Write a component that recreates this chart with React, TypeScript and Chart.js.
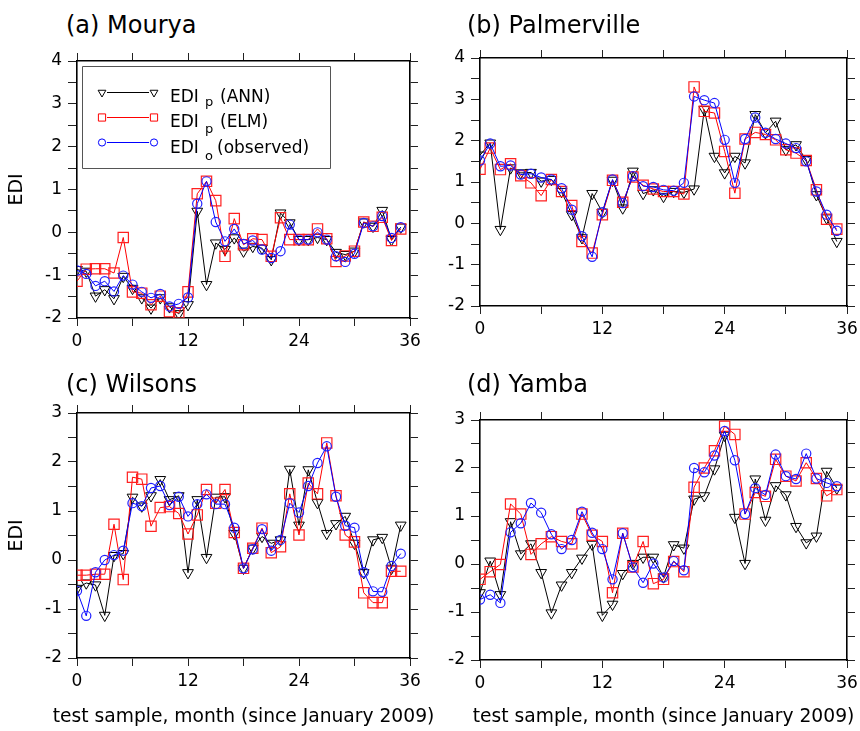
import React, { useEffect, useRef } from 'react';
import { Chart, registerables } from 'chart.js';

Chart.register(...registerables);

// ---------- data ----------
const MONTHS = [0, 1, 2, 3, 4, 5, 6, 7, 8, 9, 10, 11, 12, 13, 14, 15, 16, 17, 18, 19, 20, 21, 22, 23, 24, 25, 26, 27, 28, 29, 30, 31, 32, 33, 34, 35];
const X_TICK_LABELS = [0, 12, 24, 36];

const MOURYA_ANN = [-0.87, -0.91, -1.49, -1.34, -1.55, -1.03, -1.31, -1.53, -1.77, -1.53, -1.74, -1.9, -1.69, 0.49, -1.22, -0.25, -0.4, -0.13, -0.44, -0.33, -0.37, -0.64, 0.45, 0.22, -0.17, -0.17, -0.12, -0.17, -0.47, -0.52, -0.44, 0.24, 0.14, 0.51, -0.17, 0.12];
const MOURYA_ELM = [-1.14, -0.86, -0.85, -0.85, -0.95, -0.12, -1.39, -1.42, -1.69, -1.49, -1.85, -1.88, -1.39, 0.9, 1.19, 0.74, -0.56, 0.32, -0.29, -0.15, -0.17, -0.56, 0.34, -0.17, -0.17, -0.17, 0.08, -0.15, -0.68, -0.55, -0.44, 0.24, 0.14, 0.35, -0.19, 0.08];
const MOURYA_OBS = [-0.89, -0.97, -1.25, -1.14, -1.38, -1.01, -1.22, -1.39, -1.53, -1.44, -1.73, -1.67, -1.52, 0.67, 1.19, 0.24, -0.21, 0.08, -0.27, -0.19, -0.4, -0.6, -0.44, 0.18, -0.17, -0.17, 0.0, -0.17, -0.56, -0.69, -0.5, 0.22, 0.14, 0.38, -0.13, 0.12];

const PALMERVILLE_ANN = [1.65, 1.94, -0.15, 1.34, 1.22, 1.23, 1.02, 1.06, 0.77, 0.21, -0.35, 0.72, 0.27, 1.04, 0.37, 1.26, 0.72, 0.81, 0.65, 0.77, 0.75, 0.83, 2.75, 1.62, 1.22, 1.62, 1.46, 2.63, 2.19, 2.47, 1.78, 1.9, 1.54, 0.69, 0.13, -0.44];
const PALMERVILLE_ELM = [1.31, 1.82, 1.3, 1.44, 1.15, 0.98, 0.67, 1.06, 0.77, 0.43, -0.44, -0.72, 0.21, 1.04, 0.51, 1.12, 0.92, 0.83, 0.77, 0.77, 0.71, 3.3, 2.71, 2.67, 1.74, 0.73, 2.04, 2.2, 2.15, 2.02, 1.78, 1.7, 1.52, 0.81, 0.1, -0.14];
const PALMERVILLE_OBS = [1.52, 1.93, 1.38, 1.4, 1.18, 1.2, 1.11, 1.06, 0.85, 0.33, -0.31, -0.81, 0.27, 1.06, 0.49, 1.14, 0.9, 0.88, 0.81, 0.79, 0.98, 3.07, 2.98, 2.91, 2.02, 0.98, 2.04, 2.56, 2.19, 2.04, 1.93, 1.82, 1.5, 0.77, 0.21, -0.18];

const WILSONS_ANN = [-0.58, -0.47, -0.51, -1.13, 0.09, 0.13, 1.28, 1.1, 1.31, 1.64, 1.23, 1.31, -0.26, 1.23, 0.05, 1.28, 1.29, 0.54, -0.17, 0.24, 0.48, 0.34, 0.41, 1.85, 0.71, 1.84, 1.17, 0.54, 0.74, 0.89, 0.34, -0.26, 0.41, 0.46, -0.17, 0.71];
const WILSONS_ELM = [-0.31, -0.31, -0.29, -0.29, 0.73, -0.4, 1.69, 1.65, 0.69, 1.07, 1.09, 0.95, 0.53, 0.92, 1.44, 1.16, 1.44, 0.56, -0.17, 0.24, 0.65, 0.15, 0.27, 1.35, 0.51, 1.57, 1.35, 2.39, 1.31, 0.51, 0.37, -0.67, -0.87, -0.87, -0.23, -0.23];
const WILSONS_OBS = [-0.63, -1.14, -0.25, 0.0, 0.1, 0.19, 1.16, 1.1, 1.47, 1.51, 1.12, 1.29, 0.89, 1.14, 1.34, 1.14, 1.14, 0.66, -0.17, 0.22, 0.63, 0.19, 0.41, 1.16, 0.97, 1.51, 1.98, 2.32, 1.29, 0.7, 0.66, -0.25, -0.64, -0.65, -0.12, 0.13];

const YAMBA_ANN = [-0.6, 0.06, -0.64, 0.88, 0.21, 0.42, -0.18, -1.02, -0.44, -0.18, 0.12, 0.41, -1.07, -0.84, -0.2, 0.01, 0.14, 0.14, -0.27, 0.4, 0.33, 1.35, 1.42, 1.98, 2.68, 0.97, 0.01, 1.77, 0.91, 1.63, 1.44, 0.78, 0.44, 0.58, 1.93, 1.58];
const YAMBA_ELM = [-0.32, -0.16, -0.01, 1.25, 1.04, 0.2, 0.42, 0.57, 0.47, 0.42, 1.04, 0.6, 0.47, -0.6, 0.64, -0.06, 0.47, -0.41, -0.32, 0.05, -0.16, 1.6, 2.0, 2.36, 2.87, 2.7, 1.04, 1.49, 1.41, 2.18, 1.83, 1.73, 2.11, 1.78, 1.42, 1.55];
const YAMBA_OBS = [-0.74, -0.64, -0.81, 0.66, 0.85, 1.27, 1.07, 0.62, 0.31, 0.5, 1.09, 0.65, 0.31, -0.32, 0.64, -0.07, -0.39, 0.01, -0.28, 0.06, -0.13, 2.0, 1.91, 2.26, 2.77, 2.16, 1.04, 1.58, 1.44, 2.28, 1.83, 1.77, 2.3, 1.78, 1.69, 1.62];

const X_TITLE = 'test sample, month (since January 2009)';
const Y_TITLE = 'EDI';

const FONT = '"DejaVu Sans", Verdana, sans-serif';

type Panel = {
  title: string;
  ann: number[];
  elm: number[];
  obs: number[];
  yMin: number;
  yMax: number;
  area: { l: number; t: number; r: number; b: number };
  titleX: number;
  titleBase: number;
  yTitle: boolean;
  xTitle: boolean;
  legend: boolean;
};

const PANELS: Panel[] = [
  { title: '(a) Mourya', ann: MOURYA_ANN, elm: MOURYA_ELM, obs: MOURYA_OBS, yMin: -2, yMax: 4,
    area: { l: 77, t: 61, r: 410, b: 318 }, titleX: 66, titleBase: 33, yTitle: true, xTitle: false, legend: true },
  { title: '(b) Palmerville', ann: PALMERVILLE_ANN, elm: PALMERVILLE_ELM, obs: PALMERVILLE_OBS, yMin: -2, yMax: 4,
    area: { l: 480, t: 58, r: 847, b: 306 }, titleX: 467, titleBase: 33, yTitle: false, xTitle: false, legend: false },
  { title: '(c) Wilsons', ann: WILSONS_ANN, elm: WILSONS_ELM, obs: WILSONS_OBS, yMin: -2, yMax: 3,
    area: { l: 77, t: 413, r: 410, b: 658 }, titleX: 66, titleBase: 392, yTitle: true, xTitle: true, legend: false },
  { title: '(d) Yamba', ann: YAMBA_ANN, elm: YAMBA_ELM, obs: YAMBA_OBS, yMin: -2, yMax: 3,
    area: { l: 480, t: 420, r: 847, b: 660 }, titleX: 467, titleBase: 392, yTitle: false, xTitle: true, legend: false },
];

const PAD_L = 77;
const PAD_T = 20;
const PAD_R = 20;
const PAD_B = 75;

function marker(ctx: CanvasRenderingContext2D, style: string, x: number, y: number, r: number) {
  ctx.beginPath();
  if (style === 'triangle') {
    for (let k = 0; k < 3; k++) {
      const a = Math.PI + (k * 2 * Math.PI) / 3;
      const px = x + Math.sin(a) * r;
      const py = y - Math.cos(a) * r;
      if (k === 0) ctx.moveTo(px, py);
      else ctx.lineTo(px, py);
    }
    ctx.closePath();
  } else if (style === 'rect') {
    ctx.rect(x - r, y - r, 2 * r, 2 * r);
  } else {
    ctx.arc(x, y, r, 0, Math.PI * 2);
  }
  ctx.stroke();
}

// legend drawn inside panel (a)
const legendPlugin = {
  id: 'ediLegend',
  afterDraw(chart: any, _args: any, opts: any) {
    if (!opts || !opts.show) return;
    const { ctx, chartArea } = chart;
    const ox = chartArea.left;
    const oy = chartArea.top;
    ctx.save();
    ctx.strokeStyle = '#555';
    ctx.lineWidth = 1;
    ctx.fillStyle = '#fff';
    ctx.beginPath();
    ctx.rect(ox + 5.5, oy + 5.5, 248, 102);
    ctx.fill();
    ctx.stroke();

    const rows = [
      { y: 31, color: '#000', style: 'triangle', r: 4.5, label: '(ANN)', lx: 143 },
      { y: 56, color: '#ff0000', style: 'rect', r: 3.6, label: '(ELM)', lx: 143 },
      { y: 81, color: '#0000ff', style: 'circle', r: 3.6, label: '(observed)', lx: 140 },
    ];
    const x1 = ox + 25;
    const x2 = ox + 77;
    rows.forEach((row) => {
      const y = oy + row.y + 0.5;
      ctx.strokeStyle = row.color;
      ctx.lineWidth = 1;
      ctx.beginPath();
      ctx.moveTo(x1 + 5, y);
      ctx.lineTo(x2 - 5, y);
      ctx.stroke();
      marker(ctx, row.style, x1, y, row.r);
      marker(ctx, row.style, x2, y, row.r);
    });

    ctx.fillStyle = '#000';
    ctx.textBaseline = 'alphabetic';
    ctx.textAlign = 'left';
    const big = '17px ' + FONT;
    const small = '13px ' + FONT;
    const baselines = [40.5, 65.5, 92];
    rows.forEach((row, i) => {
      ctx.font = big;
      ctx.fillText('EDI', ox + 93, oy + baselines[i]);
      ctx.fillText(row.label, ox + row.lx, oy + baselines[i]);
    });
    ctx.font = small;
    ctx.fillText('p', ox + 128, oy + 45);
    ctx.fillText('p', ox + 128, oy + 72);
    ctx.fillText('o', ox + 128, oy + 98.5);
    ctx.restore();
  },
};

function PanelChart({ p }: { p: Panel }) {
  const ref = useRef<HTMLCanvasElement | null>(null);
  const width = p.area.r - p.area.l + PAD_L + PAD_R;
  const height = p.area.b - p.area.t + PAD_T + PAD_B;

  useEffect(() => {
    if (!ref.current) return;
    const mk = (vals: number[]) => MONTHS.map((m, i) => ({ x: m, y: vals[i] }));
    const gridOpts = (len: number) => ({
      display: true,
      drawOnChartArea: false,
      drawTicks: true,
      tickLength: len,
      color: '#222',
      lineWidth: 1,
    });
    const borderOpts = { display: true, color: '#000', width: 1.6 };
    const tickFont = { family: FONT, size: 17 };
    const titleFont = { family: FONT, size: 19 };

    const chart = new Chart(ref.current, {
      type: 'line',
      data: {
        datasets: [
          {
            label: 'EDI_p (ANN)',
            data: mk(p.ann),
            borderColor: '#000',
            borderWidth: 1,
            pointStyle: 'triangle',
            rotation: 180,
            pointRadius: 6.2,
            pointBorderColor: '#000',
            pointBackgroundColor: 'rgba(255,255,255,0)',
            pointBorderWidth: 1,
            order: 2,
            tension: 0,
          },
          {
            label: 'EDI_p (ELM)',
            data: mk(p.elm),
            borderColor: '#ff0000',
            borderWidth: 1,
            pointStyle: 'rect',
            pointRadius: 7.3,
            pointBorderColor: '#ff2020',
            pointBackgroundColor: 'rgba(255,255,255,0)',
            pointBorderWidth: 1.2,
            order: 1,
            tension: 0,
          },
          {
            label: 'EDI_o (observed)',
            data: mk(p.obs),
            borderColor: '#0000ff',
            borderWidth: 1,
            pointStyle: 'circle',
            pointRadius: 4.6,
            pointBorderColor: '#2020ff',
            pointBackgroundColor: 'rgba(255,255,255,0)',
            pointBorderWidth: 1.2,
            order: 0,
            tension: 0,
          },
        ],
      },
      options: {
        responsive: false,
        animation: false,
        devicePixelRatio: 1,
        layout: { padding: 0 },
        plugins: {
          legend: { display: false },
          tooltip: { enabled: false },
          title: { display: false },
          ediLegend: { show: p.legend },
        } as any,
        scales: {
          x: {
            type: 'linear',
            position: 'bottom',
            min: 0,
            max: 36,
            grid: gridOpts(8),
            border: borderOpts,
            ticks: {
              stepSize: 6,
              autoSkip: false,
              maxRotation: 0,
              padding: 5,
              color: '#000',
              font: tickFont,
              callback: (v: any) => (X_TICK_LABELS.includes(Number(v)) ? String(v) : ''),
            },
            afterFit: (s: any) => { s.height = PAD_B; },
          },
          x2: {
            type: 'linear',
            position: 'top',
            min: 0,
            max: 36,
            grid: gridOpts(8),
            border: borderOpts,
            ticks: { stepSize: 6, autoSkip: false, display: false },
            afterFit: (s: any) => { s.height = PAD_T; },
          },
          y: {
            type: 'linear',
            position: 'left',
            min: p.yMin,
            max: p.yMax,
            grid: gridOpts(9),
            border: borderOpts,
            ticks: {
              stepSize: 0.5,
              autoSkip: false,
              padding: 6,
              color: '#000',
              font: tickFont,
              callback: (v: any) => (Number.isInteger(Number(v)) ? String(v) : ''),
            },
            title: {
              display: p.yTitle,
              text: Y_TITLE,
              color: '#000',
              font: titleFont,
              padding: { top: 6, bottom: 0 },
            },
            afterFit: (s: any) => { s.width = PAD_L; },
          },
          y2: {
            type: 'linear',
            position: 'right',
            min: p.yMin,
            max: p.yMax,
            grid: gridOpts(8),
            border: borderOpts,
            ticks: { stepSize: 0.5, autoSkip: false, display: false },
            afterFit: (s: any) => { s.width = PAD_R; },
          },
        },
      } as any,
      plugins: [legendPlugin],
    });
    return () => chart.destroy();
  }, [p]);

  const cx = (p.area.l + p.area.r) / 2;

  return (
    <>
      <canvas
        ref={ref}
        width={width}
        height={height}
        style={{ position: 'absolute', left: p.area.l - PAD_L, top: p.area.t - PAD_T, width, height }}
      />
      <div
        style={{
          position: 'absolute',
          left: p.titleX,
          top: p.titleBase - 20.3,
          font: '24px ' + FONT,
          lineHeight: '24px',
          whiteSpace: 'nowrap',
          color: '#000',
        }}
      >
        {p.title}
      </div>
      {p.xTitle && (
        <div
          style={{
            position: 'absolute',
            left: cx - 250,
            width: 500,
            textAlign: 'center',
            top: 706,
            font: '18.7px ' + FONT,
            lineHeight: '19px',
            whiteSpace: 'nowrap',
            color: '#000',
          }}
        >
          {X_TITLE}
        </div>
      )}
    </>
  );
}

export default function App() {
  return (
    <div
      style={{
        position: 'absolute',
        left: 0,
        top: 0,
        width: 860,
        height: 731,
        overflow: 'hidden',
        background: '#fff',
      }}
    >
      {PANELS.map((p) => (
        <PanelChart key={p.title} p={p} />
      ))}
    </div>
  );
}
